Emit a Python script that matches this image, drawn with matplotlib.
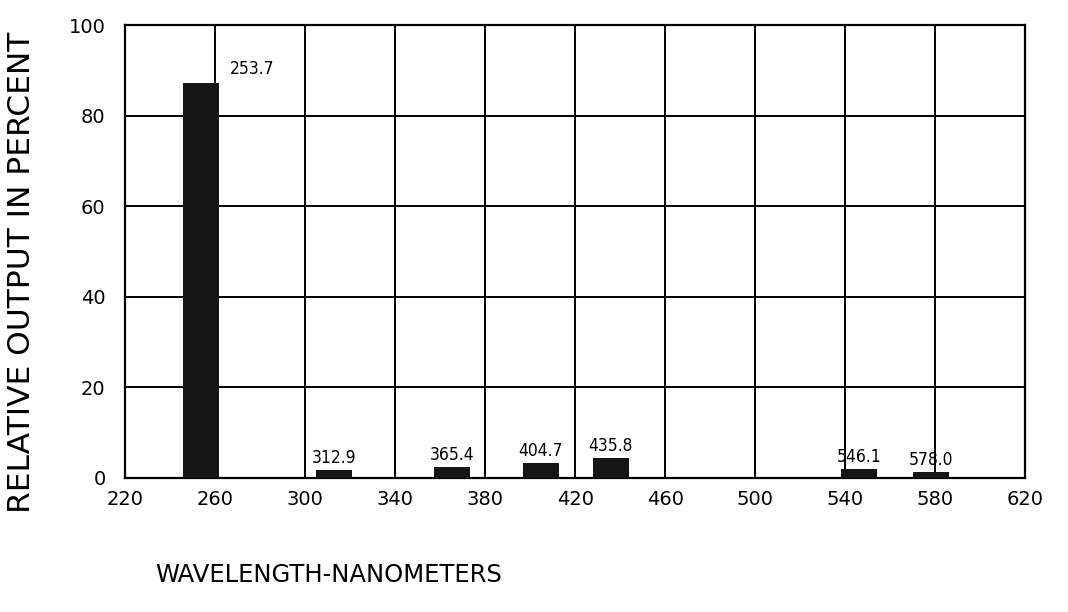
import numpy as np
import matplotlib
matplotlib.use("Agg")
import matplotlib.pyplot as plt

# ---------------------------
# data
# ---------------------------
wavelengths = [253.7, 312.9, 365.4, 404.7, 435.8, 546.1, 578.0]
output_pct = [87.2, 1.8, 2.4, 3.3, 4.4, 2.0, 1.3]
bar_labels = ["253.7", "312.9", "365.4", "404.7", "435.8", "546.1", "578.0"]
x_ticks = [220, 260, 300, 340, 380, 420, 460, 500, 540, 580, 620]
y_ticks = [0, 20, 40, 60, 80, 100]

narrow = dict(family="DejaVu Sans", stretch="condensed")

fig = plt.figure(figsize=(10.68, 6.12), dpi=100)
ax = fig.add_axes([0.117, 0.219, 0.843, 0.74])

ax.bar(wavelengths, output_pct, width=16, color="#151515", zorder=3)

# value labels: the big one sits beside the bar, the rest on top
for i, (x, y, s) in enumerate(zip(wavelengths, output_pct, bar_labels)):
    if i == 0:
        ax.annotate(s, (x + 8, y), xytext=(8, 4), textcoords="offset points",
                    ha="left", va="bottom", fontsize=12.5, **narrow)
    else:
        ax.annotate(s, (x, y), xytext=(0, 2), textcoords="offset points",
                    ha="center", va="bottom", fontsize=12.5, **narrow)

ax.set_xlim(220, 620)
ax.set_ylim(0, 100)
ax.set_xticks(x_ticks)
ax.set_yticks(y_ticks)
ax.set_xticklabels([str(t) for t in x_ticks], fontsize=14, family="DejaVu Sans")
ax.set_yticklabels([str(t) for t in y_ticks], fontsize=14, family="DejaVu Sans")
ax.tick_params(axis="x", length=0, pad=9)
ax.tick_params(axis="y", length=0, pad=14)
ax.grid(True, color="black", linewidth=1.4, zorder=1)
for sp in ax.spines.values():
    sp.set_linewidth(1.6)

fig.text(0.02, 0.555, "RELATIVE OUTPUT IN PERCENT", rotation=90,
         ha="center", va="center", fontsize=22.5, family="DejaVu Sans")
fig.text(0.145, 0.06, "WAVELENGTH-NANOMETERS", ha="left", va="center",
         fontsize=17.5, family="DejaVu Sans")

fig.savefig("out.png", dpi=100)
